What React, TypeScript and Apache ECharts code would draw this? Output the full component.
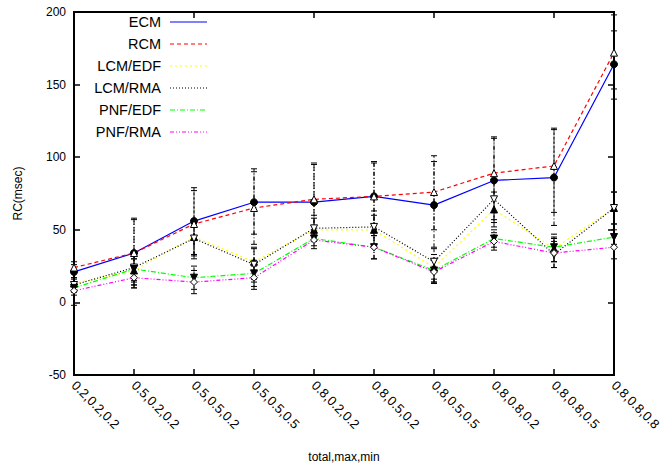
import React, { useEffect, useRef } from "react";
import * as echarts from "echarts";

const categories = [
  "0.2,0.2,0.2", "0.5,0.2,0.2", "0.5,0.5,0.2", "0.5,0.5,0.5", "0.8,0.2,0.2",
  "0.8,0.5,0.2", "0.8,0.5,0.5", "0.8,0.8,0.2", "0.8,0.8,0.5", "0.8,0.8,0.8",
];

const ecm = [21, 34, 56, 69, 69, 73, 67, 84, 86, 164];
const ecmLow = [17, 12, 33, 47, 43, 50, 38, 55, 53, 140];
const ecmHigh = [26, 58, 79, 92, 96, 97, 97, 113, 119, 187];

const rcm = [24, 34, 54, 65, 71, 73, 76, 89, 94, 172];
const rcmLow = [20, 10, 30, 40, 47, 50, 50, 62, 62, 147];
const rcmHigh = [28, 57, 77, 90, 95, 96, 101, 114, 120, 198];

const lcmEdf = [13, 22, 45, 28, 50, 50, 24, 64, 37, 65];
const lcmEdfLow = [8, 12, 33, 16, 42, 38, 14, 52, 28, 54];
const lcmEdfHigh = [17, 30, 55, 38, 58, 60, 33, 76, 45, 76];

const lcmRma = [12, 24, 44, 26, 51, 52, 28, 71, 33, 65];
const lcmRmaLow = [7, 14, 32, 14, 42, 40, 16, 57, 24, 54];
const lcmRmaHigh = [16, 32, 54, 37, 60, 63, 37, 84, 42, 76];

const pnfEdf = [10, 23, 17, 20, 44, 38, 22, 44, 38, 45];
const pnfEdfLow = [5, 15, 9, 11, 39, 30, 14, 38, 28, 40];
const pnfEdfHigh = [14, 30, 25, 29, 50, 46, 30, 50, 47, 50];

const pnfRma = [8, 17, 14, 17, 43, 38, 21, 42, 34, 38];
const pnfRmaLow = [-2, 10, 6, 9, 37, 30, 13, 36, 24, 30];
const pnfRmaHigh = [12, 24, 22, 25, 49, 46, 29, 48, 44, 46];

const yTicks = { min: -50, max: 200, interval: 50 };

const INV_TRI = "path://M0,0 L10,0 L5,9 Z";

const seriesDefs = [
  { name: "ECM", data: ecm, low: ecmLow, high: ecmHigh, color: "#0000ff", dash: "solid" as any, symbol: "circle", fill: "#000" },
  { name: "RCM", data: rcm, low: rcmLow, high: rcmHigh, color: "#ff0000", dash: [4, 3], symbol: "triangle", fill: "#fff" },
  { name: "LCM/EDF", data: lcmEdf, low: lcmEdfLow, high: lcmEdfHigh, color: "#ffff00", dash: [2, 3], symbol: "triangle", fill: "#000" },
  { name: "LCM/RMA", data: lcmRma, low: lcmRmaLow, high: lcmRmaHigh, color: "#000000", dash: [1, 2], symbol: INV_TRI, fill: "#fff" },
  { name: "PNF/EDF", data: pnfEdf, low: pnfEdfLow, high: pnfEdfHigh, color: "#00ff00", dash: [5, 2, 1, 2], symbol: INV_TRI, fill: "#000" },
  { name: "PNF/RMA", data: pnfRma, low: pnfRmaLow, high: pnfRmaHigh, color: "#ff00ff", dash: [4, 2, 1, 2, 1, 2], symbol: "diamond", fill: "#fff" },
];

export default function App() {
  const ref = useRef<HTMLDivElement>(null);
  useEffect(() => {
    if (!ref.current) return;
    const chart = echarts.init(ref.current, null, { renderer: "svg" });
    const font = "'Liberation Sans', Arial, sans-serif";

    const errData: number[][] = [];
    seriesDefs.forEach((s) => {
      s.data.forEach((_, i) => errData.push([i, s.low[i], s.high[i]]));
    });

    const lineSeries = seriesDefs.map((s) => ({
      type: "line",
      name: s.name,
      data: s.data,
      symbol: s.symbol,
      symbolSize: 7,
      showAllSymbol: true,
      z: 3,
      lineStyle: { color: s.color, width: 1.2, type: s.dash },
      itemStyle: { color: s.fill, borderColor: "#000", borderWidth: 1 },
    }));

    const legendGraphics: any[] = [];
    seriesDefs.forEach((s, i) => {
      const y = 22 + i * 22;
      legendGraphics.push({
        type: "text",
        x: 161,
        y,
        style: { text: s.name, fill: "#000", font: `14.5px ${font}`, align: "right", verticalAlign: "middle" },
      });
      legendGraphics.push({
        type: "line",
        shape: { x1: 170, y1: y, x2: 207, y2: y },
        style: { stroke: s.color, lineWidth: 1.2, lineDash: Array.isArray(s.dash) ? s.dash : null },
      });
    });

    const tick = { show: true, inside: true, length: 6, lineStyle: { color: "#000", width: 1.5 } };

    chart.setOption({
      animation: false,
      backgroundColor: "#fff",
      textStyle: { fontFamily: font },
      grid: { left: 74, right: 57, top: 12, bottom: 92, show: true, borderColor: "#000", borderWidth: 2 },
      xAxis: [
        {
          type: "category",
          data: categories,
          boundaryGap: false,
          position: "bottom",
          name: "total,max,min",
          nameLocation: "middle",
          nameGap: 76,
          nameTextStyle: { fontSize: 12, color: "#000" },
          axisLine: { show: false, onZero: false },
          axisTick: tick,
          axisLabel: { rotate: -45, fontSize: 13, color: "#000", margin: 8, interval: 0 },
          splitLine: { show: false },
        },
        {
          type: "category",
          data: categories,
          boundaryGap: false,
          position: "top",
          axisLine: { show: false, onZero: false },
          axisTick: tick,
          axisLabel: { show: false },
          splitLine: { show: false },
        },
      ],
      yAxis: [
        {
          type: "value",
          min: yTicks.min,
          max: yTicks.max,
          interval: yTicks.interval,
          position: "left",
          name: "RC(msec)",
          nameLocation: "middle",
          nameGap: 50,
          nameTextStyle: { fontSize: 12, color: "#000" },
          axisLine: { show: false, onZero: false },
          axisTick: tick,
          axisLabel: { fontSize: 12, color: "#000", margin: 8 },
          splitLine: { show: false },
        },
        {
          type: "value",
          min: yTicks.min,
          max: yTicks.max,
          interval: yTicks.interval,
          position: "right",
          axisLine: { show: false, onZero: false },
          axisTick: tick,
          axisLabel: { show: false },
          splitLine: { show: false },
        },
      ],
      graphic: legendGraphics,
      series: [
        {
          type: "custom",
          name: "err",
          data: errData,
          z: 2,
          renderItem: (params: any, api: any) => {
            const x = api.value(0);
            const lo = api.coord([x, api.value(1)]);
            const hi = api.coord([x, api.value(2)]);
            const w = 3;
            const cap = { stroke: "#000", lineWidth: 1 };
            return {
              type: "group",
              children: [
                { type: "line", shape: { x1: lo[0], y1: lo[1], x2: hi[0], y2: hi[1] }, style: { stroke: "#000", lineWidth: 1, lineDash: [4, 2, 1, 2] } },
                { type: "line", shape: { x1: lo[0] - w, y1: lo[1], x2: lo[0] + w, y2: lo[1] }, style: cap },
                { type: "line", shape: { x1: hi[0] - w, y1: hi[1], x2: hi[0] + w, y2: hi[1] }, style: cap },
              ],
            };
          },
        },
        ...lineSeries,
      ],
    });
    return () => chart.dispose();
  }, []);
  return <div ref={ref} style={{ width: 671, height: 468, position: "absolute", left: 0, top: 0 }} />;
}
